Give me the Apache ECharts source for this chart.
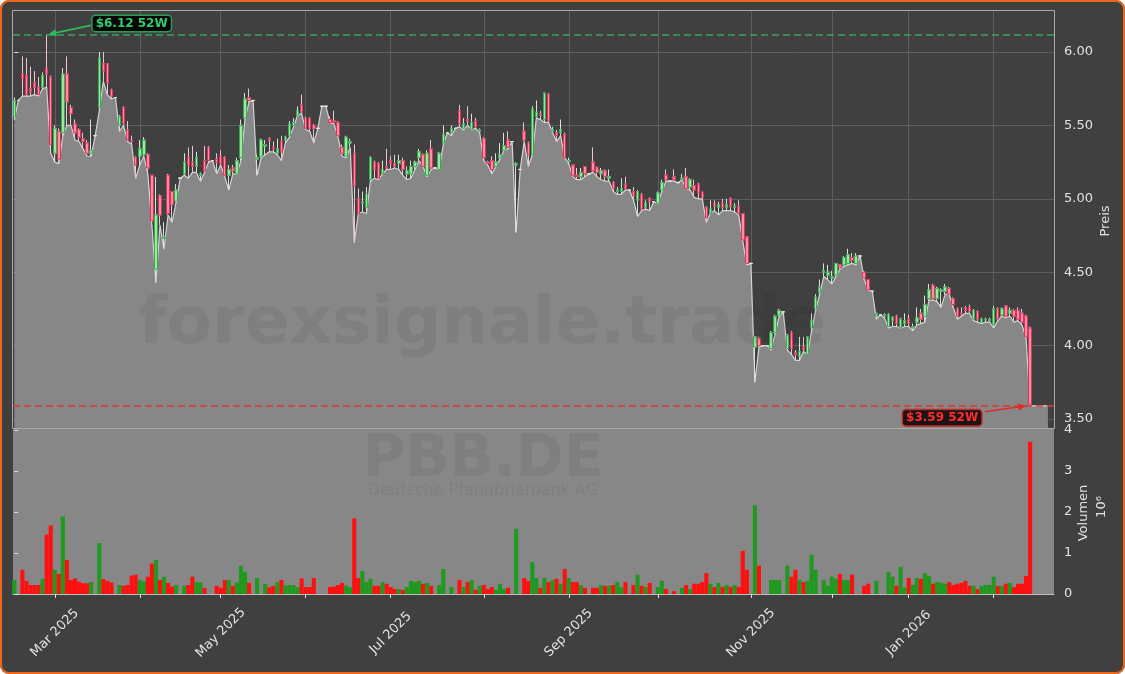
<!DOCTYPE html>
<html><head><meta charset="utf-8">
<script src="https://cdn.jsdelivr.net/npm/echarts@6/dist/echarts.min.js"></script>
<style>
html,body{margin:0;padding:0;background:#ffffff;}
#wrap{position:relative;width:1125px;height:674px;}
#chart{position:absolute;left:0;top:0;width:1125px;height:674px;background:#404040;border-radius:9px;}
#frame{position:absolute;left:0;top:0;width:1125px;height:674px;box-sizing:border-box;border:2px solid #f0661a;border-radius:9px;pointer-events:none;}
</style></head><body>
<div id="wrap"><div id="chart"></div><div id="frame"></div></div>
<script>
// ---- data (trading days from 2025-02-17) ----
const startDate = '2025-02-17';
const holidays = ['2025-04-18','2025-04-21','2025-05-01','2025-12-24','2025-12-25','2025-12-26','2025-12-31','2026-01-01'];
const labeledMonths = ['Mar 2025','May 2025','Jul 2025','Sep 2025','Nov 2025','Jan 2026'];
const priceTicks = [3.5, 4.0, 4.5, 5.0, 5.5, 6.0];
const volumeTicks = [0, 1, 2, 3, 4];

const opens = [
5.56,5.67,5.85,5.84,5.75,5.79,5.76,5.76,5.89,5.83,
5.31,5.46,5.45,5.85,5.62,5.51,5.47,5.41,5.38,5.31,
5.43,5.62,5.92,5.92,5.74,5.69,5.50,5.62,5.47,5.40,
5.28,5.29,5.30,5.30,5.16,4.52,5.02,4.73,5.16,5.05,
4.99,5.14,5.17,5.28,5.25,5.22,5.16,5.26,5.35,5.26,
5.27,5.29,5.28,5.16,5.21,5.17,5.28,5.55,5.69,5.67,
5.27,5.29,5.36,5.41,5.35,5.31,5.39,5.40,5.43,5.50,
5.57,5.64,5.55,5.55,5.50,5.48,5.63,5.63,5.54,5.53,
5.52,5.35,5.29,5.38,5.31,5.00,4.97,4.94,5.13,5.25,
5.24,5.17,5.22,5.26,5.24,5.24,5.26,5.17,5.17,5.22,
5.28,5.30,5.16,5.34,5.21,5.20,5.38,5.45,5.45,5.48,
5.60,5.48,5.54,5.47,5.53,5.46,5.41,5.25,5.26,5.22,
5.28,5.33,5.40,5.39,5.23,5.20,5.46,5.38,5.30,5.56,
5.58,5.54,5.71,5.46,5.45,5.45,5.44,5.255,5.23,5.16,
5.15,5.22,5.17,5.25,5.21,5.17,5.19,5.14,5.11,5.05,
5.05,5.10,5.06,5.05,4.99,5.03,4.94,5.00,4.98,4.97,
5.06,5.16,5.12,5.15,5.11,5.13,5.15,5.08,5.09,5.10,
5.04,4.94,4.90,4.97,4.94,4.97,4.94,5.00,4.94,4.95,
4.90,4.74,4.56,3.99,4.05,4.00,4.00,3.98,4.09,4.21,
4.23,3.98,4.09,3.95,3.93,3.99,3.94,4.12,4.25,4.36,
4.50,4.48,4.46,4.48,4.55,4.55,4.56,4.60,4.56,4.61,
4.50,4.45,4.37,4.20,4.21,4.20,4.13,4.17,4.20,4.12,
4.15,4.18,4.12,4.16,4.22,4.20,4.32,4.41,4.32,4.37,
4.37,4.39,4.32,4.25,4.22,4.26,4.26,4.18,4.23,4.16,
4.175,4.17,4.14,4.25,4.21,4.27,4.22,4.24,4.24,4.22,
4.20,4.12];
const highs = [
5.69,5.67,5.97,5.96,5.90,5.87,5.83,5.86,6.12,5.84,
5.50,5.48,5.89,5.97,5.64,5.54,5.48,5.45,5.40,5.54,
5.43,6.00,6.00,5.92,5.75,5.69,5.57,5.63,5.53,5.43,
5.29,5.40,5.42,5.31,5.16,5.15,5.03,4.84,5.17,5.05,
5.10,5.14,5.31,5.35,5.36,5.32,5.18,5.36,5.36,5.26,
5.31,5.33,5.29,5.23,5.23,5.28,5.54,5.72,5.75,5.67,
5.30,5.41,5.40,5.42,5.39,5.41,5.43,5.43,5.53,5.55,
5.63,5.71,5.56,5.55,5.51,5.48,5.63,5.63,5.56,5.60,
5.53,5.37,5.43,5.41,5.37,5.07,5.05,5.08,5.29,5.26,
5.25,5.26,5.34,5.29,5.30,5.30,5.28,5.22,5.26,5.26,
5.34,5.31,5.33,5.40,5.21,5.32,5.50,5.45,5.50,5.48,
5.64,5.55,5.63,5.58,5.55,5.48,5.42,5.26,5.29,5.31,
5.38,5.45,5.46,5.39,5.25,5.20,5.52,5.39,5.63,5.67,
5.60,5.72,5.72,5.49,5.47,5.54,5.45,5.28,5.23,5.21,
5.21,5.22,5.17,5.35,5.22,5.21,5.20,5.20,5.12,5.08,
5.14,5.15,5.06,5.08,5.06,5.04,4.99,5.01,4.98,5.05,
5.13,5.20,5.12,5.20,5.11,5.17,5.21,5.14,5.13,5.11,
5.05,4.95,4.99,4.99,4.98,5.00,5.00,5.01,4.97,4.99,
4.90,4.74,4.56,4.06,4.06,4.00,4.00,4.10,4.21,4.25,
4.23,4.08,4.10,3.97,4.06,4.06,4.06,4.22,4.35,4.45,
4.56,4.55,4.51,4.56,4.55,4.61,4.66,4.63,4.63,4.61,
4.51,4.45,4.37,4.22,4.21,4.22,4.22,4.20,4.21,4.19,
4.22,4.21,4.15,4.26,4.25,4.34,4.42,4.42,4.40,4.39,
4.42,4.40,4.33,4.26,4.26,4.27,4.28,4.25,4.24,4.19,
4.19,4.19,4.27,4.26,4.26,4.27,4.26,4.25,4.26,4.25,
4.21,4.13];
const lows = [
5.54,5.67,5.70,5.70,5.70,5.71,5.70,5.75,5.76,5.31,
5.25,5.24,5.43,5.50,5.50,5.40,5.39,5.34,5.29,5.29,
5.43,5.60,5.80,5.71,5.68,5.69,5.46,5.50,5.39,5.37,
5.14,5.23,5.29,5.17,4.82,4.43,4.82,4.66,4.89,4.84,
4.98,5.14,5.16,5.14,5.18,5.18,5.12,5.18,5.25,5.26,
5.17,5.23,5.15,5.06,5.17,5.17,5.26,5.54,5.66,5.67,
5.16,5.28,5.30,5.32,5.32,5.30,5.26,5.38,5.42,5.49,
5.57,5.58,5.47,5.46,5.38,5.48,5.63,5.63,5.52,5.51,
5.42,5.29,5.28,5.35,4.70,4.90,4.91,4.90,5.12,5.14,
5.13,5.17,5.20,5.20,5.21,5.20,5.16,5.13,5.14,5.20,
5.26,5.22,5.15,5.20,5.21,5.20,5.37,5.45,5.43,5.48,
5.49,5.47,5.50,5.47,5.48,5.45,5.26,5.23,5.17,5.22,
5.27,5.33,5.34,5.39,4.77,5.20,5.39,5.22,5.30,5.55,
5.54,5.52,5.52,5.45,5.39,5.43,5.28,5.24,5.15,5.13,
5.13,5.15,5.17,5.18,5.15,5.13,5.12,5.12,5.05,5.03,
5.03,5.06,5.06,4.99,4.88,4.92,4.93,4.92,4.98,4.97,
5.05,5.12,5.12,5.12,5.11,5.13,5.07,5.06,5.01,5.00,
5.00,4.84,4.90,4.92,4.89,4.92,4.92,4.92,4.91,4.89,
4.71,4.55,4.56,3.75,3.99,4.00,4.00,3.97,4.08,4.20,
4.23,3.97,3.94,3.90,3.90,3.96,3.94,4.10,4.24,4.35,
4.47,4.45,4.42,4.47,4.52,4.54,4.55,4.56,4.55,4.61,
4.45,4.38,4.37,4.18,4.21,4.19,4.12,4.13,4.13,4.12,
4.13,4.13,4.10,4.14,4.15,4.16,4.31,4.31,4.30,4.26,
4.35,4.35,4.26,4.18,4.20,4.22,4.22,4.17,4.16,4.15,
4.16,4.16,4.12,4.17,4.20,4.19,4.20,4.16,4.17,4.14,
4.05,3.59];
const closes = [
5.67,5.67,5.82,5.71,5.73,5.76,5.71,5.84,5.85,5.37,
5.48,5.27,5.85,5.66,5.58,5.45,5.42,5.39,5.31,5.33,
5.43,5.96,5.87,5.79,5.70,5.69,5.56,5.51,5.40,5.39,
5.23,5.34,5.40,5.21,4.85,4.89,4.89,4.74,4.90,4.96,
5.06,5.14,5.25,5.23,5.22,5.28,5.17,5.19,5.26,5.26,
5.25,5.24,5.16,5.20,5.19,5.26,5.50,5.68,5.67,5.67,
5.28,5.40,5.37,5.40,5.34,5.34,5.32,5.42,5.51,5.52,
5.60,5.59,5.48,5.48,5.48,5.48,5.63,5.63,5.52,5.52,
5.43,5.31,5.42,5.39,5.09,4.90,4.98,5.03,5.28,5.20,
5.14,5.20,5.21,5.24,5.22,5.26,5.20,5.19,5.22,5.25,
5.32,5.22,5.31,5.21,5.21,5.31,5.44,5.45,5.48,5.48,
5.51,5.51,5.53,5.52,5.49,5.47,5.28,5.24,5.20,5.25,
5.30,5.36,5.35,5.39,5.24,5.20,5.40,5.30,5.61,5.59,
5.57,5.72,5.53,5.47,5.43,5.47,5.28,5.26,5.16,5.15,
5.18,5.17,5.17,5.19,5.18,5.19,5.15,5.15,5.07,5.06,
5.07,5.07,5.06,5.02,5.05,4.93,4.97,4.98,4.98,5.04,
5.11,5.13,5.12,5.13,5.11,5.14,5.07,5.13,5.06,5.04,
5.01,4.87,4.93,4.95,4.96,4.94,4.96,4.95,4.95,4.90,
4.72,4.56,4.56,4.06,4.00,4.00,4.00,4.09,4.20,4.24,
4.23,4.07,3.98,3.94,3.96,3.97,4.06,4.17,4.33,4.40,
4.51,4.50,4.47,4.56,4.53,4.60,4.62,4.58,4.61,4.61,
4.46,4.38,4.37,4.22,4.21,4.21,4.21,4.19,4.15,4.18,
4.17,4.15,4.13,4.19,4.18,4.28,4.38,4.32,4.39,4.38,
4.40,4.35,4.28,4.20,4.215,4.24,4.23,4.24,4.18,4.18,
4.18,4.18,4.25,4.18,4.25,4.20,4.24,4.20,4.18,4.16,
4.06,3.60];
// volume in millions
const volumes = [
0.34,0,0.59,0.32,0.22,0.22,0.22,0.37,1.45,1.67,
0.59,0.49,1.89,0.83,0.34,0.38,0.30,0.26,0.26,0.29,
0,1.24,0.36,0.32,0.28,0,0.22,0.20,0.22,0.45,
0.47,0.34,0.30,0.42,0.74,0.83,0.34,0.42,0.27,0.18,
0.22,0,0.20,0.22,0.42,0.29,0.28,0.15,0,0,
0.20,0.15,0.34,0.34,0.20,0.28,0.69,0.54,0.27,0,
0.39,0,0.25,0.16,0.20,0.29,0.34,0.21,0.22,0.22,
0.17,0.38,0.17,0.17,0.39,0,0,0,0.17,0.18,
0.22,0.27,0.20,0.16,1.84,0.39,0.56,0.29,0.37,0.20,
0.20,0.29,0.25,0.17,0.12,0.12,0.10,0.17,0.32,0.29,
0.32,0.25,0.27,0.20,0,0.22,0.61,0,0.17,0,
0.34,0.17,0.29,0.34,0.10,0.20,0.22,0.12,0.17,0.10,
0.25,0.12,0.15,0,1.59,0,0.39,0.32,0.78,0.39,
0.15,0.39,0.29,0.34,0.37,0.25,0.61,0.39,0.29,0.29,
0.22,0.15,0,0.15,0.15,0.22,0.20,0.20,0.22,0.29,
0.17,0.29,0,0.22,0.47,0.20,0.17,0.27,0,0.17,
0.32,0.12,0,0.07,0,0.15,0.22,0.12,0.25,0.25,
0.29,0.51,0.25,0.17,0.27,0.17,0.22,0.17,0.22,0.17,
1.05,0.59,0,2.16,0.69,0,0,0.34,0.34,0.34,
0,0.69,0.42,0.59,0.34,0.29,0.32,0.96,0.59,0,
0.34,0.20,0.42,0.37,0.49,0.34,0.34,0.47,0,0,
0.20,0.25,0,0.32,0,0,0.54,0.42,0.20,0.66,
0.15,0.39,0.22,0.39,0.37,0.51,0.44,0.25,0.29,0.27,
0.25,0.29,0.22,0.25,0.27,0.32,0.20,0.20,0.12,0.20,
0.22,0.22,0.42,0.20,0.20,0.25,0.27,0.17,0.25,0.25,
0.44,3.71];
// the low-area continues flat after the last session
const lowTail = [[255.4, 3.59]];

// ---- trading-day calendar ----
const monthNames = ['Jan','Feb','Mar','Apr','May','Jun','Jul','Aug','Sep','Oct','Nov','Dec'];
const dates = [];
(function(){
  const p = startDate.split('-').map(Number);
  const d = new Date(Date.UTC(p[0], p[1]-1, p[2]));
  while (dates.length < opens.length) {
    const wd = d.getUTCDay();
    const s = d.toISOString().slice(0,10);
    if (wd !== 0 && wd !== 6 && holidays.indexOf(s) < 0) dates.push(s);
    d.setUTCDate(d.getUTCDate()+1);
  }
})();
const fmtMonth = s => monthNames[+s.slice(5,7)-1] + ' ' + s.slice(0,4);
const monthStarts = [];
for (let i = 1; i < dates.length; i++) if (dates[i].slice(0,7) !== dates[i-1].slice(0,7)) monthStarts.push(i);
const labelIdx = monthStarts.filter(i => labeledMonths.indexOf(fmtMonth(dates[i])) >= 0);

const N = opens.length;
const wickData = [], bodyData = [], volData = [];
for (let i = 0; i < N; i++) {
  wickData.push([i, opens[i], closes[i], lows[i], highs[i]]);
  bodyData.push([i, opens[i], closes[i], Math.min(opens[i], closes[i]), Math.max(opens[i], closes[i])]);
  volData.push([i, volumes[i]]);
}
const areaData = lows.map((v, i) => [i, v]).concat(lowTail);
const hi52 = Math.max.apply(null, highs), lo52 = Math.min.apply(null, lows);
const iHi = highs.indexOf(hi52), iLo = lows.indexOf(lo52);

const FONT = 'DejaVu Sans';
const XMIN = -0.32, XMAX = 256.9;
const chart = echarts.init(document.getElementById('chart'), null, {renderer:'canvas'});
const option = {
  animation: false,
  backgroundColor: 'transparent',
  textStyle: {fontFamily: FONT},
  grid: [
    {left: 13, top: 11, width: 1041, height: 417, show: false},
    {left: 13, top: 429, width: 1041, height: 165, show: true, backgroundColor: '#878787', borderWidth: 0}
  ],
  xAxis: [
    {gridIndex: 0, type: 'value', min: XMIN, max: XMAX,
     axisLine: {show: false}, axisTick: {show: false, customValues: monthStarts},
     axisLabel: {show: false, customValues: monthStarts},
     splitLine: {show: true, lineStyle: {color: '#5e5e5e', width: 1}}},
    {gridIndex: 1, type: 'value', min: XMIN, max: XMAX,
     axisLine: {show: true, onZero: false, lineStyle: {color: '#bdbdbd', width: 1}},
     axisTick: {show: true, customValues: monthStarts, length: 4, lineStyle: {color: '#dddddd'}},
     axisLabel: {show: true, customValues: labelIdx, formatter: v => fmtMonth(dates[Math.round(v)]),
       rotate: 45, align: 'center', verticalAlign: 'middle', margin: 39,
       color: '#e2e2e2', fontSize: 13, fontFamily: FONT},
     splitLine: {show: false}}
  ],
  yAxis: [
    {gridIndex: 0, type: 'value', position: 'right', min: 3.4387, max: 6.2793,
     axisLine: {show: false},
     axisTick: {show: true, customValues: priceTicks, length: 4, lineStyle: {color: '#dddddd'}},
     axisLabel: {customValues: priceTicks, formatter: v => v.toFixed(2), color: '#e2e2e2', fontSize: 13, fontFamily: FONT, margin: 10},
     splitLine: {show: true, lineStyle: {color: '#5e5e5e', width: 1}}},
    {gridIndex: 1, type: 'value', position: 'right', min: 0, max: 4.02,
     axisLine: {show: false},
     axisTick: {show: true, customValues: volumeTicks, length: 4, lineStyle: {color: '#dddddd'}},
     axisLabel: {customValues: volumeTicks, formatter: v => String(Math.round(v)), color: '#e2e2e2', fontSize: 13, fontFamily: FONT, margin: 10},
     splitLine: {show: false}}
  ],
  series: [
    {type: 'line', xAxisIndex: 0, yAxisIndex: 0, data: areaData, symbol: 'none', silent: true, z: 2,
     lineStyle: {color: '#d4d4d4', width: 1.2}, areaStyle: {color: '#878787', opacity: 1, origin: 'start'}},
    {type: 'candlestick', name: 'wick', xAxisIndex: 0, yAxisIndex: 0, data: wickData, barWidth: 3, z: 3, silent: true,
     dimensions: ['idx','open','close','lowest','highest'], encode: {x: 0, y: [1,2,3,4]},
     itemStyle: {color: 'rgba(0,0,0,0)', color0: 'rgba(0,0,0,0)', borderColor: '#d2e8d2', borderColor0: '#efc6cf', borderColorDoji: '#dddddd', borderWidth: 1},
     markLine: {silent: true, symbol: ['none','none'], label: {show: false}, animation: false,
       data: [
         {yAxis: hi52, lineStyle: {color: '#3aa35c', type: [7,4], width: 1.6}},
         {yAxis: lo52, lineStyle: {color: '#d63a3a', type: [7,4], width: 1.6}}
       ]}},
    {type: 'candlestick', name: 'body', xAxisIndex: 0, yAxisIndex: 0, data: bodyData, barWidth: 3, z: 4, silent: true,
     dimensions: ['idx','open','close','lowest','highest'], encode: {x: 0, y: [1,2,3,4]},
     itemStyle: {color: '#9aea9a', color0: '#ff8ea7', borderColor: '#3aa858', borderColor0: '#dc3358', borderColorDoji: '#e0e0e0', borderWidth: 1}},
    {type: 'bar', xAxisIndex: 1, yAxisIndex: 1, data: volData, barWidth: 4.1, z: 2, silent: true,
     itemStyle: {color: p => closes[p.dataIndex] >= opens[p.dataIndex] ? '#1f9a1f' : '#ff1010'}}
  ]
};
chart.setOption(option);

// ---- annotations positioned through the axes ----
const pH = chart.convertToPixel({xAxisIndex: 0, yAxisIndex: 0}, [iHi, hi52]);
const pL = chart.convertToPixel({xAxisIndex: 0, yAxisIndex: 0}, [iLo, lo52]);
function arrow(x1, y1, x2, y2, color) {
  const dx = x2 - x1, dy = y2 - y1, L = Math.sqrt(dx*dx + dy*dy), ux = dx/L, uy = dy/L;
  const bx = x2 - ux*8, by = y2 - uy*8;
  return [
    {type: 'line', z: 30, shape: {x1: x1, y1: y1, x2: x2 - ux*5, y2: y2 - uy*5}, style: {stroke: color, lineWidth: 1.6}},
    {type: 'polygon', z: 30, shape: {points: [[x2, y2], [bx - uy*3.5, by + ux*3.5], [bx + uy*3.5, by - ux*3.5]]}, style: {fill: color}}
  ];
}
const hiC = [pH[0] + 85, pH[1] - 11];
const loC = [pL[0] - 88, pL[1] + 12];
const WM = 'rgba(0,0,0,0.06)';
const graphics = [
  // price panel frame
  {type: 'rect', z: 25, silent: true, shape: {x: 12.5, y: 10.5, width: 1042, height: 418}, style: {fill: null, stroke: '#a9a9a9', lineWidth: 1}},
  // watermarks
  {type: 'text', z: 20, silent: true, x: 482, y: 326, style: {text: 'forexsignale.trade', fill: WM, font: 'bold 66px "DejaVu Sans"', align: 'center', verticalAlign: 'middle'}},
  {type: 'text', z: 20, silent: true, x: 483, y: 461, style: {text: 'PBB.DE', fill: WM, font: 'bold 58px "DejaVu Sans"', align: 'center', verticalAlign: 'middle'}},
  {type: 'text', z: 20, silent: true, x: 483, y: 491, style: {text: 'Deutsche Pfandbriefbank AG', fill: WM, font: '16px "DejaVu Sans"', align: 'center', verticalAlign: 'middle'}},
  // axis names
  {type: 'text', z: 20, silent: true, x: 1106, y: 221, rotation: Math.PI/2, style: {text: 'Preis', fill: '#e2e2e2', font: '13px "DejaVu Sans"', align: 'center', verticalAlign: 'middle'}},
  {type: 'text', z: 20, silent: true, x: 1084, y: 513, rotation: Math.PI/2, style: {text: 'Volumen', fill: '#e2e2e2', font: '13px "DejaVu Sans"', align: 'center', verticalAlign: 'middle'}},
  {type: 'text', z: 20, silent: true, x: 1102, y: 507, rotation: Math.PI/2, style: {text: '10⁶', fill: '#e2e2e2', font: '13px "DejaVu Sans"', align: 'center', verticalAlign: 'middle'}},
  // 52W labels
  {type: 'text', z: 31, silent: true, x: hiC[0], y: hiC[1], style: {text: '$' + hi52.toFixed(2) + ' 52W', fill: '#2ecc71', font: 'bold 12px "DejaVu Sans"', align: 'center', verticalAlign: 'middle', backgroundColor: '#050505', borderColor: '#2a9d52', borderWidth: 1.5, borderRadius: 3, padding: [2, 3, 1, 3]}},
  {type: 'text', z: 31, silent: true, x: loC[0], y: loC[1], style: {text: '$' + lo52.toFixed(2) + ' 52W', fill: '#ff2d2d', font: 'bold 12px "DejaVu Sans"', align: 'center', verticalAlign: 'middle', backgroundColor: '#1c1414', borderColor: '#c62626', borderWidth: 1.5, borderRadius: 3, padding: [2, 3, 1, 3]}}
].concat(arrow(hiC[0] - 41, hiC[1] + 2, pH[0] + 1.5, pH[1], '#2fb85d'))
 .concat(arrow(loC[0] + 43, loC[1] - 6, pL[0] - 4, pL[1], '#e02a2a'));
chart.setOption({graphic: graphics});
</script>
</body></html>
